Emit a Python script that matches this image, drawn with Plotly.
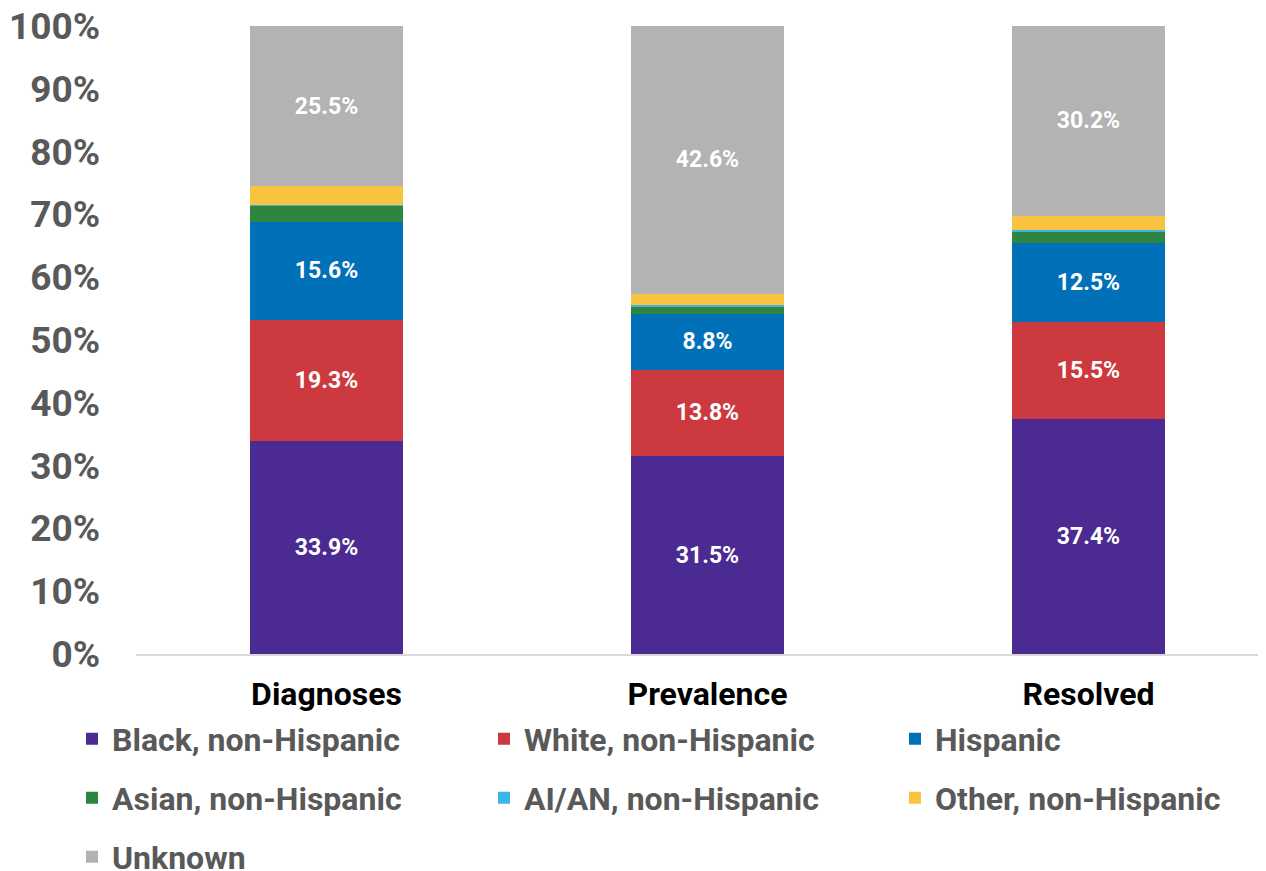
import plotly.graph_objects as go

categories = ["Diagnoses", "Prevalence", "Resolved"]
series_names = ["Black, non-Hispanic", "White, non-Hispanic", "Hispanic",
                "Asian, non-Hispanic", "AI/AN, non-Hispanic", "Other, non-Hispanic", "Unknown"]
black = [33.9, 31.5, 37.4]
white = [19.3, 13.8, 15.5]
hispanic = [15.6, 8.8, 12.5]
asian = [2.6, 1.3, 1.9]
aian = [0.1, 0.2, 0.2]
other = [3.0, 1.8, 2.3]
unknown = [25.5, 42.6, 30.2]

values = [black, white, hispanic, asian, aian, other, unknown]
colors = ["#4B2A91", "#CC3A3F", "#0070B8", "#2E8540", "#3CB4E5", "#F8C440", "#B3B3B3"]
labelled = [True, True, True, False, False, False, True]

# legend grid placement (column, row) for each series
leg_col = [0, 1, 2, 0, 1, 2, 0]
leg_row = [0, 0, 0, 1, 1, 1, 2]
col_px = [64, 476, 887]
row_px = [731, 790, 849]

W, H = 1258, 863  # page body adds an 8px margin
FONT = "Roboto"
fig = go.Figure()
legends = {}
for i, (name, vals, col, lab) in enumerate(zip(series_names, values, colors, labelled)):
    lid = "legend" if i == 0 else f"legend{i + 1}"
    fig.add_trace(go.Bar(
        x=categories, y=vals, name=name, marker_color=col, marker_line_width=0,
        text=[f"{v:.1f}%" for v in vals] if lab else None,
        textposition="inside" if lab else "none",
        insidetextanchor="middle", textangle=0,
        textfont=dict(family=FONT, size=23, color="white", weight="bold"),
        hoverinfo="skip", legend=lid,
    ))
    legends[lid] = dict(
        orientation="h", xref="container", yref="container",
        x=col_px[leg_col[i]] / W, y=1 - row_px[leg_row[i]] / H,
        xanchor="left", yanchor="middle",
        font=dict(family=FONT, size=32, color="#595959", weight="bold"),
        bgcolor="rgba(0,0,0,0)",
    )

fig.update_layout(
    barmode="stack", bargap=0.6,
    width=W, height=H,
    margin=dict(l=128, r=0, t=18, b=217),
    plot_bgcolor="white", paper_bgcolor="white",
    font=dict(family=FONT),
    showlegend=True,
    xaxis=dict(range=[-0.5, 2.466], showline=True, linecolor="#D9D9D9", linewidth=2,
               showgrid=False, ticks="", ticklabelstandoff=11, automargin=False,
               tickfont=dict(family=FONT, size=32, color="black", weight="bold")),
    yaxis=dict(range=[0, 100], dtick=10, ticksuffix="%", showgrid=False, zeroline=False,
               showline=False, ticks="", ticklabelstandoff=35, automargin=False,
               ticklabeloverflow="allow",
               tickfont=dict(family=FONT, size=37, color="#595959", weight="bold")),
    **legends,
)
fig.write_html("out.html")
